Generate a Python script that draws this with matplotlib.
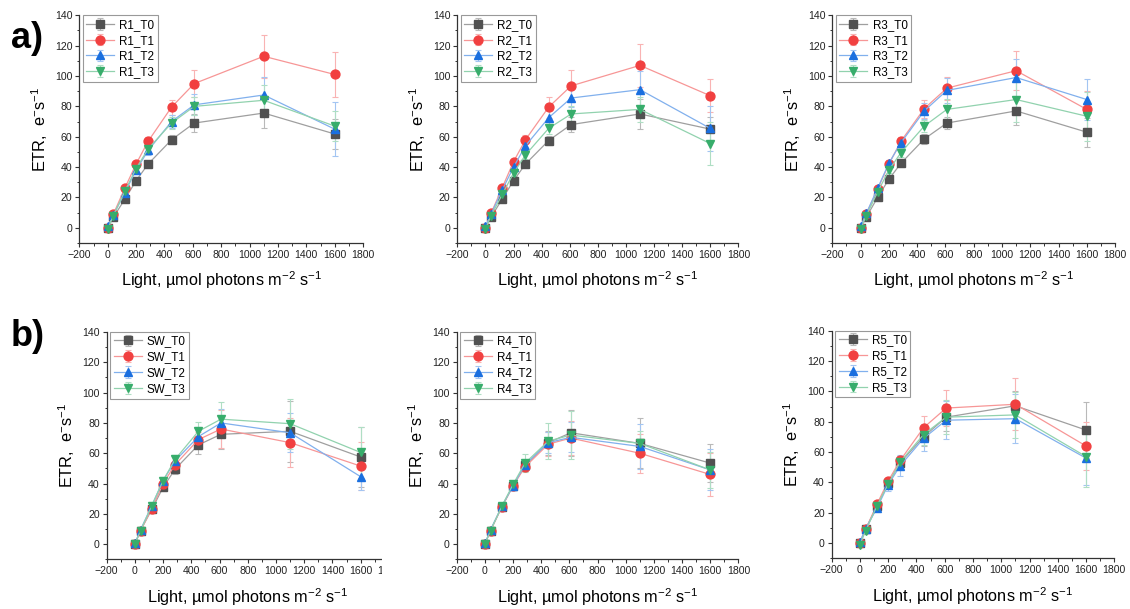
import numpy as np
import matplotlib
matplotlib.use("Agg")
import matplotlib.pyplot as plt
from matplotlib.patches import Rectangle
from matplotlib.ticker import MultipleLocator
from matplotlib.colors import to_rgb

plt.rcParams['font.family'] = ['Liberation Sans', 'DejaVu Sans']
plt.rcParams['mathtext.default'] = 'regular'

# light levels of the rapid light curve (µmol photons m-2 s-1)
light = [0, 40, 120, 200, 285, 450, 610, 1100, 1600]

# mean ETR per treatment (rows: T0, T1, T2, T3) and standard deviations
r1_mean = [[0, 7, 18.7, 31, 42, 58, 69, 75.6, 61.8],
           [0, 9, 26, 42, 57, 79.5, 95, 113, 101],
           [1, 8.5, 23, 38, 51, 70, 81, 87.5, 65],
           [-1, 8, 24, 39, 52, 69, 80, 84, 67]]
r1_err = [[0.5, 1, 1.5, 2, 2, 3, 6, 10, 10],
          [0.5, 1, 1.5, 2, 3, 5, 9, 14, 15],
          [0.5, 1, 1.5, 2.5, 3, 4, 7, 12, 18],
          [0.5, 1, 1.5, 2, 3, 4, 6, 10, 10]]

r2_mean = [[0, 7, 19, 31, 42, 57.5, 68, 75, 65],
           [0, 9.5, 26.5, 43.5, 58, 79.5, 93.5, 107, 87],
           [1, 9, 25, 40, 54, 72.5, 85.5, 91, 65.5],
           [-1, 8, 22, 36, 48, 65.5, 75, 78, 55.5]]
r2_err = [[0.5, 1, 1.5, 2, 2, 3, 5, 10, 8],
          [0.5, 1, 1.5, 2, 3, 7, 10.5, 14, 11],
          [0.5, 1, 1.5, 2, 3, 5, 6, 12, 15],
          [0.5, 1, 1.5, 2, 3, 4, 5, 8, 14]]

r3_mean = [[0, 7, 20, 32, 42.5, 58.5, 69, 77, 63],
           [0, 9, 25.5, 42, 57, 78.5, 92, 103.5, 78],
           [1, 9.5, 26, 42.5, 56, 77, 90.5, 99, 84.5],
           [-1, 8, 23.5, 38, 49.5, 67, 78, 84.5, 73.5]]
r3_err = [[0.5, 1, 1.5, 2, 2, 3, 4, 9, 9.5],
          [0.5, 1, 1.5, 2, 2.5, 6, 7.5, 13, 12],
          [0.5, 1, 1.5, 2, 3, 5, 8, 12, 13.5],
          [0.5, 1, 1.5, 2, 3, 4, 7, 15, 16]]

sw_mean = [[0, 9, 23, 37.5, 49.5, 65.5, 72.5, 74.5, 57.5],
           [0, 9, 23.5, 40, 52.5, 69, 76, 67, 51.5],
           [0.5, 9.5, 25.5, 42, 55, 71, 80, 73.5, 44.5],
           [0, 9, 25.5, 42, 56, 74.5, 82.5, 79.5, 60.5]]
sw_err = [[0.5, 1, 1.5, 2, 3, 6, 10, 20, 20],
          [0.5, 1, 1.5, 2.5, 3, 5, 12.5, 16, 16],
          [0.5, 1, 2, 2.5, 3, 6, 9, 13, 9],
          [0.5, 1, 1.5, 2, 3, 6, 11.5, 16.5, 17]]

r4_mean = [[0, 9, 24.5, 38.5, 52, 67, 73.5, 66.5, 53.5],
           [0, 9, 24.5, 38.5, 51, 66, 70, 60, 46],
           [0.5, 9.5, 25, 38.5, 52.5, 67, 70.5, 64.5, 49],
           [0, 9, 25, 39.5, 53.5, 68, 72, 66.5, 49]]
r4_err = [[0.5, 1, 1.5, 2, 3, 8, 15, 16.5, 12.5],
          [0.5, 1, 1.5, 2, 3, 8, 11, 13, 14],
          [0.5, 1, 1.5, 2, 3, 7, 10, 15, 13.5],
          [0.5, 1, 1.5, 2, 6, 12, 16, 8, 12]]

r5_mean = [[0, 9, 24.5, 39.5, 53, 70, 83, 90.5, 74.5],
           [0, 9, 25.5, 41, 54.5, 76, 89, 91.5, 64],
           [1, 9.5, 23, 38.5, 51, 69, 81, 82, 56],
           [-1, 8, 24.5, 39, 53.5, 71.5, 83, 84.5, 57]]
r5_err = [[0.5, 1, 1.5, 2, 3, 6, 9, 10, 18.5],
          [0.5, 1, 1.5, 2, 3, 7.5, 12, 17, 16],
          [0.5, 1, 1.5, 4, 7, 8, 12.5, 16, 18],
          [0.5, 1, 1.5, 2, 4, 7, 11, 15, 20]]

treatments = ['T0', 'T1', 'T2', 'T3']
colors = ['#515151', '#F14040', '#1A6FDF', '#37AD6B']
markers = ['s', 'o', '^', 'v']


def lighten(c, amount):
    r, g, b = to_rgb(c)
    return (r + (1 - r) * amount, g + (1 - g) * amount, b + (1 - b) * amount)


def draw_panel(ax, site, means, errs):
    for i in range(4):
        ax.errorbar(light, means[i], yerr=errs[i], color=lighten(colors[i], 0.45),
                    lw=0.9, marker=markers[i], ms=6.4, mfc=colors[i], mec=colors[i],
                    ecolor=lighten(colors[i], 0.6), elinewidth=0.8, capsize=2.2,
                    capthick=0.8, label=f'{site}_{treatments[i]}')
    ax.set_xlim(-200, 1800)
    ax.xaxis.set_major_locator(MultipleLocator(200))
    ax.xaxis.set_minor_locator(MultipleLocator(100))
    ax.yaxis.set_minor_locator(MultipleLocator(10))
    ax.set_yticks(range(0, 141, 20))
    ax.set_ylim(-10, 140)
    for side in ['top', 'right']:
        ax.spines[side].set_visible(False)
    for side in ['left', 'bottom']:
        ax.spines[side].set_linewidth(0.9)
        ax.spines[side].set_color('#333333')
    ax.tick_params(which='major', length=3.2, width=0.8, labelsize=7.6, pad=1.8,
                   color='#333333', labelcolor='#222222')
    ax.tick_params(which='minor', length=1.8, width=0.7, color='#333333')
    ax.set_xlabel(r'Light, µmol photons m$^{-2}$ s$^{-1}$', fontsize=11.7, labelpad=7)
    ax.set_ylabel(r'ETR,  e$^{-}$s$^{-1}$', fontsize=11.7)
    ax.yaxis.set_label_coords(-0.105, 0.5)
    leg = ax.legend(loc='upper left', bbox_to_anchor=(0.012, 1.0), fontsize=8.4,
                    handlelength=2.4, handletextpad=0.45, labelspacing=0.33,
                    borderpad=0.3, borderaxespad=0, fancybox=False, framealpha=1)
    leg.get_frame().set_edgecolor('#999999')
    leg.get_frame().set_linewidth(0.8)


fig = plt.figure(figsize=(11.3, 6.09), dpi=100)

positions = [
    (0.0702, 0.601, 0.2511, 0.3739),
    (0.4047, 0.601, 0.2487, 0.3739),
    (0.7366, 0.601, 0.2502, 0.3739),
    (0.0944, 0.0816, 0.2498, 0.3732),
    (0.4042, 0.0816, 0.2492, 0.3732),
    (0.7360, 0.0833, 0.2501, 0.3737),
]
panels = [('R1', r1_mean, r1_err), ('R2', r2_mean, r2_err), ('R3', r3_mean, r3_err),
          ('SW', sw_mean, sw_err), ('R4', r4_mean, r4_err), ('R5', r5_mean, r5_err)]

axes = []
for pos, (site, means, errs) in zip(positions, panels):
    ax = fig.add_axes(pos)
    draw_panel(ax, site, means, errs)
    axes.append(ax)

# the R4 panel sits over the right end of the SW panel
axes[4].set_zorder(2)
fig.patches.append(Rectangle((382 / 1130, 0), 74 / 1130, 0.49, transform=fig.transFigure,
                             facecolor='white', edgecolor='none', zorder=1))

fig.text(0.0243, 0.937, 'a)', fontsize=26, fontweight='bold', ha='center', va='center')
fig.text(0.0243, 0.447, 'b)', fontsize=26, fontweight='bold', ha='center', va='center')

fig.savefig('out.png', dpi=100)
